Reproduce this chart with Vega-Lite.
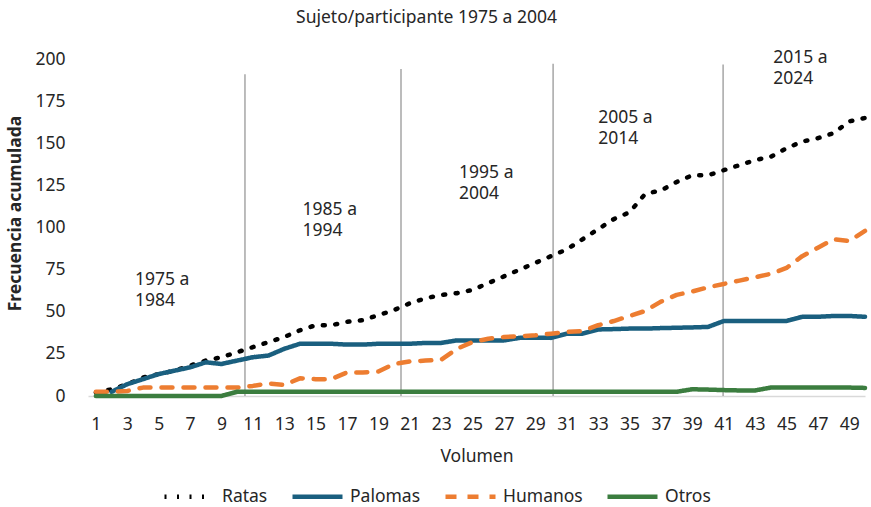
{
  "$schema": "https://vega.github.io/schema/vega-lite/v6.json",
  "width": 777,
  "height": 337,
  "autosize": {"type": "none"},
  "padding": {"left": 88, "top": 59, "right": 6, "bottom": 111},
  "background": "white",
  "config": {"view": {"stroke": null}, "font": "Noto Sans"},
  "title": {"text": "Sujeto/participante 1975 a 2004", "fontSize": 17.5, "fontWeight": "normal", "color": "#262626", "anchor": "middle", "dx": -50, "offset": 23},
  "datasets": {
    "series": [
      {"v":1,"s":"Ratas","y":2},{"v":2,"s":"Ratas","y":4},{"v":3,"s":"Ratas","y":7},{"v":4,"s":"Ratas","y":11},{"v":5,"s":"Ratas","y":13},{"v":6,"s":"Ratas","y":15},{"v":7,"s":"Ratas","y":18},{"v":8,"s":"Ratas","y":21},{"v":9,"s":"Ratas","y":23},{"v":10,"s":"Ratas","y":26},
      {"v":11,"s":"Ratas","y":29},{"v":12,"s":"Ratas","y":32},{"v":13,"s":"Ratas","y":35},{"v":14,"s":"Ratas","y":39},{"v":15,"s":"Ratas","y":42},{"v":16,"s":"Ratas","y":42},{"v":17,"s":"Ratas","y":44},{"v":18,"s":"Ratas","y":45},{"v":19,"s":"Ratas","y":48},{"v":20,"s":"Ratas","y":51},
      {"v":21,"s":"Ratas","y":55},{"v":22,"s":"Ratas","y":58},{"v":23,"s":"Ratas","y":60},{"v":24,"s":"Ratas","y":61},{"v":25,"s":"Ratas","y":63},{"v":26,"s":"Ratas","y":67},{"v":27,"s":"Ratas","y":71},{"v":28,"s":"Ratas","y":75},{"v":29,"s":"Ratas","y":79},{"v":30,"s":"Ratas","y":83},
      {"v":31,"s":"Ratas","y":87},{"v":32,"s":"Ratas","y":93},{"v":33,"s":"Ratas","y":99},{"v":34,"s":"Ratas","y":105},{"v":35,"s":"Ratas","y":109},{"v":36,"s":"Ratas","y":120},{"v":37,"s":"Ratas","y":122},{"v":38,"s":"Ratas","y":127},{"v":39,"s":"Ratas","y":131},{"v":40,"s":"Ratas","y":131},
      {"v":41,"s":"Ratas","y":134},{"v":42,"s":"Ratas","y":137},{"v":43,"s":"Ratas","y":140},{"v":44,"s":"Ratas","y":142},{"v":45,"s":"Ratas","y":147},{"v":46,"s":"Ratas","y":151},{"v":47,"s":"Ratas","y":153},{"v":48,"s":"Ratas","y":156},{"v":49,"s":"Ratas","y":163},{"v":50,"s":"Ratas","y":165},
      {"v":2,"s":"Palomas","y":2.5},{"v":3,"s":"Palomas","y":7},{"v":4,"s":"Palomas","y":10},{"v":5,"s":"Palomas","y":13},{"v":6,"s":"Palomas","y":15},{"v":7,"s":"Palomas","y":17},{"v":8,"s":"Palomas","y":20},{"v":9,"s":"Palomas","y":19},{"v":10,"s":"Palomas","y":21},
      {"v":11,"s":"Palomas","y":23},{"v":12,"s":"Palomas","y":24},{"v":13,"s":"Palomas","y":28},{"v":14,"s":"Palomas","y":31},{"v":15,"s":"Palomas","y":31},{"v":16,"s":"Palomas","y":31},{"v":17,"s":"Palomas","y":30.5},{"v":18,"s":"Palomas","y":30.5},{"v":19,"s":"Palomas","y":31},{"v":20,"s":"Palomas","y":31},
      {"v":21,"s":"Palomas","y":31},{"v":22,"s":"Palomas","y":31.5},{"v":23,"s":"Palomas","y":31.5},{"v":24,"s":"Palomas","y":33},{"v":25,"s":"Palomas","y":33},{"v":26,"s":"Palomas","y":33},{"v":27,"s":"Palomas","y":33},{"v":28,"s":"Palomas","y":34.5},{"v":29,"s":"Palomas","y":34.5},{"v":30,"s":"Palomas","y":34.5},
      {"v":31,"s":"Palomas","y":37},{"v":32,"s":"Palomas","y":37},{"v":33,"s":"Palomas","y":39.5},{"v":34,"s":"Palomas","y":39.7},{"v":35,"s":"Palomas","y":40},{"v":36,"s":"Palomas","y":40},{"v":37,"s":"Palomas","y":40.3},{"v":38,"s":"Palomas","y":40.5},{"v":39,"s":"Palomas","y":40.7},{"v":40,"s":"Palomas","y":41},
      {"v":41,"s":"Palomas","y":44.5},{"v":42,"s":"Palomas","y":44.5},{"v":43,"s":"Palomas","y":44.5},{"v":44,"s":"Palomas","y":44.5},{"v":45,"s":"Palomas","y":44.5},{"v":46,"s":"Palomas","y":47},{"v":47,"s":"Palomas","y":47},{"v":48,"s":"Palomas","y":47.5},{"v":49,"s":"Palomas","y":47.5},{"v":50,"s":"Palomas","y":47},
      {"v":1,"s":"Humanos","y":2.5},{"v":2,"s":"Humanos","y":2.5},{"v":3,"s":"Humanos","y":3},{"v":4,"s":"Humanos","y":5},{"v":5,"s":"Humanos","y":5},{"v":6,"s":"Humanos","y":5},{"v":7,"s":"Humanos","y":5},{"v":8,"s":"Humanos","y":5},{"v":9,"s":"Humanos","y":5},{"v":10,"s":"Humanos","y":5},
      {"v":11,"s":"Humanos","y":6},{"v":12,"s":"Humanos","y":7.5},{"v":13,"s":"Humanos","y":6.5},{"v":14,"s":"Humanos","y":10.5},{"v":15,"s":"Humanos","y":10},{"v":16,"s":"Humanos","y":10},{"v":17,"s":"Humanos","y":14},{"v":18,"s":"Humanos","y":14},{"v":19,"s":"Humanos","y":14.5},{"v":20,"s":"Humanos","y":19},
      {"v":21,"s":"Humanos","y":20.5},{"v":22,"s":"Humanos","y":21},{"v":23,"s":"Humanos","y":21.5},{"v":24,"s":"Humanos","y":28},{"v":25,"s":"Humanos","y":32},{"v":26,"s":"Humanos","y":34},{"v":27,"s":"Humanos","y":35},{"v":28,"s":"Humanos","y":35.5},{"v":29,"s":"Humanos","y":36},{"v":30,"s":"Humanos","y":37},
      {"v":31,"s":"Humanos","y":38},{"v":32,"s":"Humanos","y":38.5},{"v":33,"s":"Humanos","y":42},{"v":34,"s":"Humanos","y":44.5},{"v":35,"s":"Humanos","y":47.5},{"v":36,"s":"Humanos","y":50.5},{"v":37,"s":"Humanos","y":56},{"v":38,"s":"Humanos","y":60},{"v":39,"s":"Humanos","y":62},{"v":40,"s":"Humanos","y":64.5},
      {"v":41,"s":"Humanos","y":66.5},{"v":42,"s":"Humanos","y":68.5},{"v":43,"s":"Humanos","y":70.5},{"v":44,"s":"Humanos","y":72.5},{"v":45,"s":"Humanos","y":76},{"v":46,"s":"Humanos","y":83},{"v":47,"s":"Humanos","y":88},{"v":48,"s":"Humanos","y":93},{"v":49,"s":"Humanos","y":92},{"v":50,"s":"Humanos","y":98},
      {"v":1,"s":"Otros","y":0},{"v":2,"s":"Otros","y":0},{"v":3,"s":"Otros","y":0},{"v":4,"s":"Otros","y":0},{"v":5,"s":"Otros","y":0},{"v":6,"s":"Otros","y":0},{"v":7,"s":"Otros","y":0},{"v":8,"s":"Otros","y":0},{"v":9,"s":"Otros","y":0},{"v":10,"s":"Otros","y":2.5},
      {"v":11,"s":"Otros","y":2.5},{"v":12,"s":"Otros","y":2.5},{"v":13,"s":"Otros","y":2.5},{"v":14,"s":"Otros","y":2.5},{"v":15,"s":"Otros","y":2.5},{"v":16,"s":"Otros","y":2.5},{"v":17,"s":"Otros","y":2.5},{"v":18,"s":"Otros","y":2.5},{"v":19,"s":"Otros","y":2.5},{"v":20,"s":"Otros","y":2.5},
      {"v":21,"s":"Otros","y":2.5},{"v":22,"s":"Otros","y":2.5},{"v":23,"s":"Otros","y":2.5},{"v":24,"s":"Otros","y":2.5},{"v":25,"s":"Otros","y":2.5},{"v":26,"s":"Otros","y":2.5},{"v":27,"s":"Otros","y":2.5},{"v":28,"s":"Otros","y":2.5},{"v":29,"s":"Otros","y":2.5},{"v":30,"s":"Otros","y":2.5},
      {"v":31,"s":"Otros","y":2.5},{"v":32,"s":"Otros","y":2.5},{"v":33,"s":"Otros","y":2.5},{"v":34,"s":"Otros","y":2.5},{"v":35,"s":"Otros","y":2.5},{"v":36,"s":"Otros","y":2.5},{"v":37,"s":"Otros","y":2.5},{"v":38,"s":"Otros","y":2.5},{"v":39,"s":"Otros","y":4},{"v":40,"s":"Otros","y":3.8},
      {"v":41,"s":"Otros","y":3.5},{"v":42,"s":"Otros","y":3.3},{"v":43,"s":"Otros","y":3.3},{"v":44,"s":"Otros","y":5},{"v":45,"s":"Otros","y":5},{"v":46,"s":"Otros","y":5},{"v":47,"s":"Otros","y":5},{"v":48,"s":"Otros","y":5},{"v":49,"s":"Otros","y":5},{"v":50,"s":"Otros","y":4.8}
    ],
    "rules": [
      {"v":10.5,"y":190.9,"y0":0},{"v":20.44,"y":194,"y0":0},{"v":30.13,"y":197.2,"y0":0},{"v":40.96,"y":196.8,"y0":0}
    ],
    "notes": [
      {"v":3.49,"y":68.8,"t":"1975 a\n1984"},
      {"v":14.17,"y":110.4,"t":"1985 a\n1994"},
      {"v":24.14,"y":132.2,"t":"1995 a\n2004"},
      {"v":33.0,"y":164.8,"t":"2005 a\n2014"},
      {"v":44.15,"y":200.4,"t":"2015 a\n2024"}
    ]
  },
  "encoding": {
    "x": {
      "field": "v", "type": "quantitative",
      "scale": {"domain": [0.5, 50], "nice": false, "zero": false},
      "axis": {
        "values": [1,3,5,7,9,11,13,15,17,19,21,23,25,27,29,31,33,35,37,39,41,43,45,47,49],
        "format": "d", "title": "Volumen", "grid": false, "ticks": false, "tickSize": 0,
        "domainColor": "#D9D9D9", "domainWidth": 1.5,
        "labelFontSize": 17.5, "labelColor": "#262626", "labelPadding": 19,
        "titleFontSize": 17.5, "titleFontWeight": "normal", "titleColor": "#262626", "titlePadding": 15
      }
    },
    "y": {
      "field": "y", "type": "quantitative",
      "scale": {"domain": [0, 200], "nice": false},
      "axis": {
        "values": [0,25,50,75,100,125,150,175,200],
        "title": "Frecuencia acumulada", "grid": false, "ticks": false, "tickSize": 0, "domain": false,
        "labelFontSize": 17.5, "labelColor": "#262626", "labelPadding": 23,
        "titleFontSize": 17.5, "titleFontWeight": "bold", "titleColor": "#262626",
        "titleX": -73, "titleY": 154, "titleAngle": -90, "titleAlign": "center", "titleBaseline": "middle"
      }
    }
  },
  "layer": [
    {
      "data": {"name": "rules"},
      "mark": {"type": "rule", "color": "#A6A6A6", "strokeWidth": 1.5},
      "encoding": {"y2": {"field": "y0"}}
    },
    {
      "data": {"name": "series"},
      "mark": {"type": "line", "strokeWidth": 4.5, "strokeCap": "round", "strokeJoin": "round"},
      "encoding": {
        "color": {
          "field": "s", "type": "nominal",
          "scale": {"domain": ["Ratas", "Palomas", "Humanos", "Otros"], "range": ["#000000", "#1A5F7F", "#ED7D31", "#3B7D3F"]},
          "legend": {
            "orient": "none", "legendX": 74, "legendY": 410, "direction": "horizontal", "title": null,
            "symbolType": "stroke", "symbolSize": 2500, "symbolStrokeWidth": 4.5,
            "labelFontSize": 17.5, "labelColor": "#262626", "columnPadding": 15, "labelOffset": 5, "padding": 0,
            "symbolLimit": 0
          }
        },
        "strokeDash": {
          "field": "s", "type": "nominal",
          "scale": {"domain": ["Ratas", "Palomas", "Humanos", "Otros"], "range": [[2, 10.5], [1, 0], [11, 11], [1, 0]]},
          "legend": null
        },
        "order": {"field": "v"}
      }
    },
    {
      "data": {"name": "notes"},
      "mark": {"type": "text", "align": "left", "baseline": "middle", "fontSize": 17.5, "lineBreak": "\n", "lineHeight": 20.7, "color": "#262626"},
      "encoding": {"text": {"field": "t"}}
    }
  ]
}
